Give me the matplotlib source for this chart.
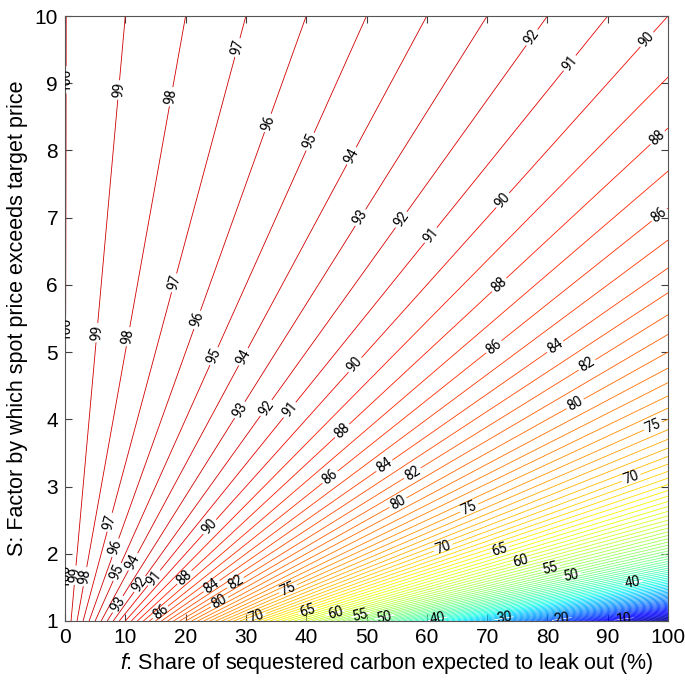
import matplotlib.pyplot as plt
import numpy as np
from matplotlib.colors import ListedColormap

plt.rcParams['font.family'] = ['Liberation Sans', 'DejaVu Sans']
plt.rcParams['mathtext.fontset'] = 'custom'
plt.rcParams['mathtext.it'] = 'Liberation Sans:italic'

# f: leakage share (%), S: spot / target price factor
f_share = np.linspace(0, 100, 401)
price_factor = np.linspace(1, 10, 361)

# contour levels (value retained, %); 99.98 stands for the 100 line on the left edge
label_levels = [10, 20, 30, 40, 50, 55, 60, 65, 70, 75, 80, 82, 84, 86, 88,
                90, 91, 92, 93, 94, 95, 96, 97, 98, 99, 99.98]
plain_levels = [v for v in range(0, 100) if v not in label_levels]

# where the labels sit: (level, S)
label_spots = [
    (99.98, 9.05), (99.98, 5.35), (99.98, 1.68),
    (99, 8.9), (99, 5.29), (99, 1.68),
    (98, 8.8), (98, 5.23), (98, 1.66),
    (97, 9.53), (97, 6.03), (97, 2.47),
    (96, 8.41), (96, 5.48), (96, 2.09),
    (95, 8.13), (95, 4.94), (95, 1.73),
    (94, 7.92), (94, 4.93), (94, 1.88),
    (93, 7.0), (93, 4.14), (93, 1.25),
    (92, 9.68), (92, 6.97), (92, 4.17), (92, 1.55),
    (91, 9.3), (91, 6.74), (91, 4.14), (91, 1.64),
    (90, 9.65), (90, 7.26), (90, 4.81), (90, 2.40),
    (88, 8.19), (88, 6.0), (88, 3.83), (88, 1.65),
    (86, 7.04), (86, 5.08), (86, 3.14), (86, 1.13),
    (84, 5.08), (84, 3.31), (84, 1.52),
    (82, 4.81), (82, 3.2), (82, 1.57),
    (80, 4.23), (80, 2.76), (80, 1.28),
    (75, 3.90), (75, 2.68), (75, 1.48),
    (70, 3.13), (70, 2.09), (70, 1.06),
    (65, 2.06), (65, 1.15),
    (60, 1.89), (60, 1.12),
    (55, 1.79), (55, 1.09),
    (50, 1.68), (50, 1.06),
    (40, 1.57), (40, 1.03),
    (30, 1.04), (20, 1.03), (10, 1.03),
]

F, S = np.meshgrid(f_share, price_factor)
value = 100 - F / S

# jet, but the dark-red top end kept a little brighter (thin lines look red, not maroon)
jet_vals = plt.get_cmap('jet')(np.linspace(0, 1, 256))
top = np.linspace(0, 1, 256) > 0.875
jet_vals[top, 0] = np.maximum(jet_vals[top, 0], 0.82)
line_cmap = ListedColormap(jet_vals)

fig = plt.figure(figsize=(6.85, 6.81), dpi=100)
ax = fig.add_axes([65 / 685, 60 / 681, 603 / 685, 605 / 681])

ax.contour(F, S, value, levels=plain_levels, cmap=line_cmap, vmin=0, vmax=100,
           linewidths=0.6)
cs = ax.contour(F, S, value, levels=label_levels, cmap=line_cmap, vmin=0,
                vmax=100, linewidths=0.6)

positions = [((100 - lev) * s, s) for lev, s in label_spots]
with plt.rc_context({'font.family': ['Roboto', 'Liberation Sans']}):
    ax.clabel(cs, manual=positions, inline=True, inline_spacing=2,
              fmt=lambda v: f'{v:.0f}', fontsize=10, colors='k')

ax.set_xlim(0, 100)
ax.set_ylim(1, 10)
ax.set_xticks(np.arange(0, 101, 10))
ax.set_yticks(np.arange(1, 11, 1))
ax.tick_params(direction='in', top=True, right=True, length=5, width=0.8,
               color='#404040', labelsize=15, pad=5)
for sp in ax.spines.values():
    sp.set_color('#555555')
    sp.set_linewidth(0.8)

ax.set_xlabel(r'$\it{f}$: Share of sequestered carbon expected to leak out (%)',
              fontsize=15.5, labelpad=3)
ax.xaxis.label.set_x(0.534)
ax.set_ylabel('S: Factor by which spot price exceeds target price',
              fontsize=15.5, labelpad=5)

fig.savefig('out.png', dpi=100)
